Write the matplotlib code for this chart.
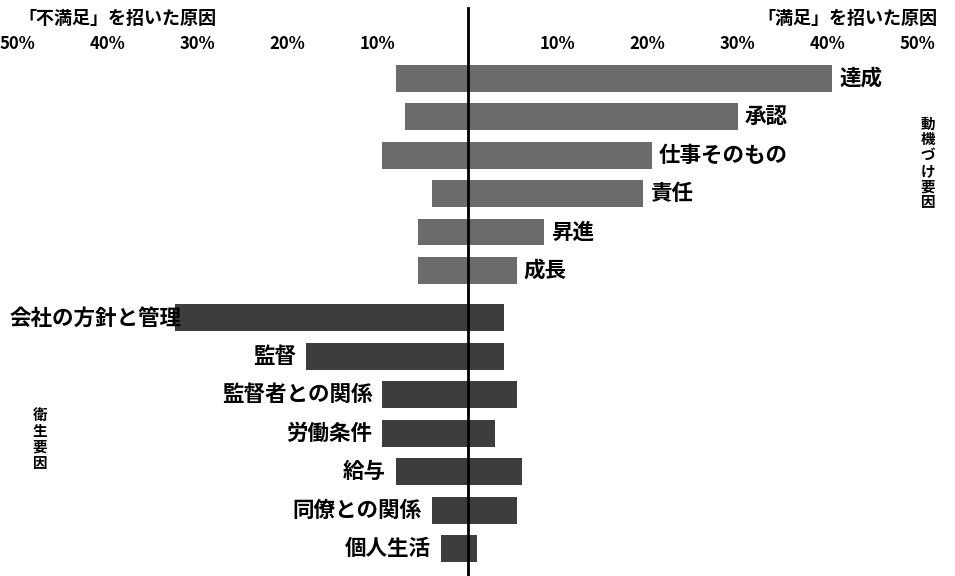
import matplotlib
matplotlib.use("Agg")
import matplotlib.pyplot as plt

plt.rcParams['font.family'] = ['Noto Sans CJK JP', 'DejaVu Sans']

# 動機づけ要因 (motivators)
motivators = ['達成', '承認', '仕事そのもの', '責任', '昇進', '成長']
mot_dissat = [8, 7, 9.5, 4, 5.5, 5.5]       # 「不満足」 %
mot_sat = [40.5, 30, 20.5, 19.5, 8.5, 5.5]  # 「満足」 %

# 衛生要因 (hygiene factors)
hygiene = ['会社の方針と管理', '監督', '監督者との関係', '労働条件', '給与',
           '同僚との関係', '個人生活']
hyg_dissat = [32.5, 18, 9.5, 9.5, 8, 4, 3]
hyg_sat = [4, 4, 5.5, 3, 6, 5.5, 1]

tick_vals = [-50, -40, -30, -20, -10, 10, 20, 30, 40, 50]
tick_labels = ['50%', '40%', '30%', '20%', '10%', '10%', '20%', '30%', '40%', '50%']

W, H = 955, 576
fig = plt.figure(figsize=(W / 100, H / 100), dpi=100)
ax = fig.add_axes([0, 0, 1, (H - 60) / H])

mot_y = list(range(len(motivators)))
hyg_y = [len(motivators) + 0.23 + j for j in range(len(hygiene))]

bar_h = 0.7
ax.barh(mot_y, [d + s for d, s in zip(mot_dissat, mot_sat)], left=[-d for d in mot_dissat],
        height=bar_h, color='#6b6b6b')
ax.barh(hyg_y, [d + s for d, s in zip(hyg_dissat, hyg_sat)], left=[-d for d in hyg_dissat],
        height=bar_h, color='#3d3d3d')

xmin, xmax = -467.5 / 9, 487.5 / 9
ax.set_xlim(xmin, xmax)
ax.set_ylim(12.94, -0.47)

lab_kw = dict(fontsize=15.5, fontweight='bold', va='center', color='black',
              textcoords='offset points')
for name, y, s in zip(motivators, mot_y, mot_sat):
    ax.annotate(name, (s, y), xytext=(5, 0), ha='left', **lab_kw)
for name, y, d in zip(hygiene, hyg_y, hyg_dissat):
    if d > 30:
        ax.annotate(name, (xmin, y), xytext=(7, 0), ha='left', zorder=5, **lab_kw)
    else:
        ax.annotate(name, (-d, y), xytext=(-7, 0), ha='right', **lab_kw)

# center line
ax.axvline(0, ymin=0, ymax=(H - 8) / (H - 60), color='black', lw=2, clip_on=False, zorder=6)

ax.xaxis.tick_top()
ax.set_xticks(tick_vals)
ax.set_xticklabels(tick_labels, fontsize=12, fontweight='bold')
ax.tick_params(axis='x', length=0, pad=5)
ax.set_yticks([])
for sp in ax.spines.values():
    sp.set_visible(False)

fig.text(18 / W, 1 - 18 / H, '「不満足」を招いた原因', fontsize=13, fontweight='bold',
         ha='left', va='center')
fig.text(937 / W, 1 - 18 / H, '「満足」を招いた原因', fontsize=13, fontweight='bold',
         ha='right', va='center')
fig.text(928 / W, 1 - 163 / H, '\n'.join('動機づけ要因'), fontsize=10.5, fontweight='bold',
         ha='center', va='center', linespacing=0.98)
fig.text(40 / W, 1 - 439 / H, '\n'.join('衛生要因'), fontsize=10.5, fontweight='bold',
         ha='center', va='center', linespacing=0.98)

fig.savefig('out.png', dpi=100)
